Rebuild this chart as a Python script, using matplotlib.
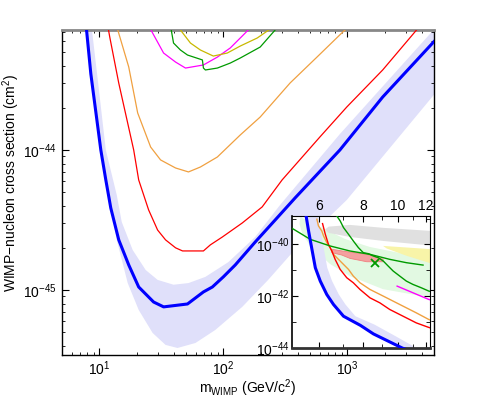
import numpy as np
import matplotlib
matplotlib.use("Agg")
import matplotlib.pyplot as plt
from matplotlib.ticker import FixedLocator, FixedFormatter, NullFormatter

plt.rcParams['font.family'] = ['Liberation Sans', 'DejaVu Sans']
plt.rcParams['mathtext.fontset'] = 'custom'
plt.rcParams['mathtext.rm'] = 'Liberation Sans'
plt.rcParams['mathtext.it'] = 'Liberation Sans:italic'
plt.rcParams['mathtext.default'] = 'regular'

# ---- data (mass in GeV/c^2, cross section in cm^2) ----
blue_m = [5.50, 5.62, 5.71, 5.87, 6.06, 6.32, 6.60, 7.04, 7.85, 8.54, 10.28, 11.28, 12.37, 14.34,
          17.26, 20.77, 27.4, 33.0, 51.4, 69.1, 81.6, 100, 124.9, 180.7, 261.7, 378.7, 870.8,
          1928, 4953, 5500]
blue_s = [2.0e-39, 3.33e-40, 1.0e-40, 1.26e-41, 3.85e-42, 1.17e-42, 4.8e-43, 1.69e-43, 7.5e-44,
          3.5e-44, 1.0e-44, 6.11e-45, 3.85e-45, 2.28e-45, 1.51e-45, 1.05e-45, 8.2e-46, 7.57e-46,
          7.94e-46, 9.68e-46, 1.05e-45, 1.24e-45, 1.51e-45, 2.20e-45, 3.16e-45, 4.54e-45, 1.0e-44,
          2.39e-44, 5.9e-44, 6.5e-44]

band_up_m = [5.94, 6.07, 6.17, 6.34, 6.54, 6.83, 7.13, 7.6, 8.6, 9.72, 11.28, 13.82, 15.16, 18.58,
             23.63, 29.51, 39.67, 52.35, 71.68, 109.7, 180.7, 287, 871, 4953, 5500]
band_up_s = [2.0e-39, 3.33e-40, 1.0e-40, 1.26e-41, 3.85e-42, 1.17e-42, 4.8e-43, 1.69e-43, 8.0e-44,
             3.16e-44, 1.0e-44, 4.77e-45, 3.06e-45, 1.93e-45, 1.39e-45, 1.18e-45, 1.09e-45,
             1.12e-45, 1.24e-45, 1.58e-45, 2.39e-45, 4.05e-45, 1.30e-44, 7.2e-44, 8.0e-44]
band_lo_m = [5.50, 5.62, 5.71, 5.87, 6.06, 6.32, 6.60, 7.04, 7.85, 8.54, 10.28, 11.92, 13.82, 16.94,
             20.77, 26.9, 34.2, 42.7, 59.6, 86.2, 142.1, 229.9, 358.2, 990.8, 5500]
band_lo_s = [2.0e-39, 3.33e-40, 1.0e-40, 1.26e-41, 3.85e-42, 1.17e-42, 4.8e-43, 1.69e-43, 7.5e-44,
             3.5e-44, 1.0e-44, 4.77e-45, 2.28e-45, 1.12e-45, 7.2e-46, 4.93e-46, 4.05e-46, 3.85e-46,
             4.18e-46, 5.18e-46, 7.57e-46, 1.18e-45, 1.84e-45, 4.4e-45, 2.75e-44]

red_m = [6.15, 6.26, 6.39, 6.53, 6.67, 6.89, 7.19, 7.50, 7.83, 8.35, 8.90, 9.49, 10.34, 11.26,
         12.14, 14.34, 18.93, 20.77, 24.98, 29.51, 34.2, 41.2, 46.9, 69.1, 78.6, 98.2, 142.1,
         205.7, 297.8, 601.4, 990.8, 1928, 3615, 4194]
red_s = [6.41e-40, 2.48e-40, 1.0e-40, 5.6e-41, 2.66e-41, 1.09e-41, 5.18e-42, 3.32e-42, 1.83e-42,
         8.69e-43, 5.56e-43, 3.07e-43, 1.69e-43, 9.33e-44, 6.4e-44, 3.01e-44, 1.0e-44, 6.11e-45,
         3.73e-45, 2.68e-45, 2.28e-45, 2.0e-45, 1.9e-45, 1.9e-45, 2.1e-45, 2.39e-45, 3.01e-45,
         3.92e-45, 6.11e-45, 1.24e-44, 2.03e-44, 3.73e-44, 7.2e-44, 8.34e-44]

orange_m = [5.93, 5.99, 6.12, 6.19, 6.32, 6.46, 6.60, 6.89, 7.27, 7.50, 7.83, 8.35, 9.10, 10.12,
            11.26, 12.21, 13.6, 17.26, 20.38, 25.93, 31.19, 41.17, 52.35, 65.35, 89.5, 136.9,
            198.3, 345.3, 568.9, 920, 1047]
orange_s = [9.46e-40, 5.21e-40, 3.33e-40, 2.13e-40, 1.18e-40, 7.54e-41, 4.16e-41, 2.29e-41,
            1.09e-41, 6.01e-42, 3.32e-42, 1.83e-42, 1.01e-42, 4.8e-43, 2.28e-43, 1.26e-43, 8.0e-44,
            3.92e-44, 1.84e-44, 1.05e-44, 8.49e-45, 7.44e-45, 6.97e-45, 7.56e-45, 8.91e-45,
            1.28e-44, 1.72e-44, 3.01e-44, 4.61e-44, 6.97e-44, 7.69e-44]

magenta_m = [9.95, 11.02, 12.21, 24.07, 32.97, 41.17, 49.53, 69.09, 89.5, 113.8, 136.9, 171]
magenta_s = [2.46e-42, 1.36e-42, 7.5e-43, 8.2e-44, 4.93e-44, 4.25e-44, 3.85e-44, 4.05e-44,
             4.61e-44, 5.36e-44, 6.31e-44, 7.69e-44]

olive_m = [41.9, 45.1, 54.3, 65.35, 83.1, 107.7, 136.9, 187.6, 238.5, 287]
olive_s = [8.49e-44, 7.2e-44, 5.81e-44, 5.18e-44, 4.69e-44, 4.93e-44, 5.53e-44, 6.31e-44,
           7.31e-44, 8.34e-44]

green_m = [6.74, 6.89, 7.04, 7.27, 7.50, 7.75, 8.00, 8.26, 8.54, 8.81, 9.10, 9.39, 9.70, 10.12,
           10.56, 11.02, 11.63, 12.21, 36.8, 39.67, 45.1, 51.4, 67.8, 69.1, 71.7, 89.5, 113.8,
           136.9, 198.3, 261.7, 292.4]
green_s = [1.27e-39, 8.15e-40, 4.5e-40, 2.48e-40, 1.37e-40, 7.54e-41, 4.82e-41, 4.42e-41, 3.58e-41,
           3.09e-41, 2.29e-41, 1.47e-41, 9.4e-42, 6.01e-42, 3.85e-42, 2.86e-42, 2.12e-42, 1.58e-42,
           8.49e-44, 5.81e-44, 5.18e-44, 4.77e-44, 4.4e-44, 3.85e-44, 3.73e-44, 3.85e-44, 4.18e-44,
           4.54e-44, 5.44e-44, 7.2e-44, 8.2e-44]

flat_m = [5.0, 5.68, 6.46, 7.34, 8.35, 9.49, 10.56, 11.76]
flat_s = [4.6e-40, 1.58e-40, 8.75e-41, 5.6e-41, 4.16e-41, 2.66e-41, 1.98e-41, 1.6e-41]

gray_m = [6.25, 6.4, 7.34, 9.09, 13, 13, 9.09, 7.34, 6.4]
gray_s = [3.8e-40, 4.9e-40, 5.7e-40, 4.4e-40, 3.2e-40, 8.5e-41, 1.37e-40, 1.95e-40, 2.8e-40]

yellow_m = [9.09, 13, 13, 10.56, 9.3]
yellow_s = [8.8e-41, 6.3e-41, 1.5e-41, 3.68e-41, 7.0e-41]

lgreen_m = [5.33, 6.06, 7.11, 8.35, 10.12, 12.43, 12.43, 11.29, 9.08, 7.34, 6.46, 5.68, 5.40, 5.30]
lgreen_s = [1.16e-39, 4.76e-40, 1.63e-40, 8.0e-41, 4.69e-41, 2.74e-41, 9.2e-43, 1.1e-42,
            1.88e-42, 6.0e-42, 1.75e-41, 8.75e-41, 2.55e-40, 6.24e-40]

pink_m = [6.53, 7.19, 8.18, 9.09, 9.09, 8.18, 7.34, 6.96, 6.53]
pink_s = [6.5e-41, 5.26e-41, 4.17e-41, 2.67e-41, 2.15e-41, 2.15e-41, 2.9e-41, 3.92e-41, 4.82e-41]

best_m = [8.6]
best_s = [1.9e-41]

c_blue, c_band = '#0000ff', '#e0e0fa'
c_red, c_orange, c_mag = '#ff0000', '#f0a040', '#ff00ff'
c_olive, c_green = '#c8b800', '#009a00'

fig = plt.figure(figsize=(4.8, 3.99), dpi=100)
ax = fig.add_axes([62/480, 44/399, 372/480, 325/399])

band_m = np.r_[band_up_m, band_lo_m[::-1]]
band_s = np.r_[band_up_s, band_lo_s[::-1]]


def draw_curves(a, lw_thin):
    a.fill(band_m, band_s, color=c_band, lw=0, zorder=1)
    a.plot(magenta_m, magenta_s, color=c_mag, lw=lw_thin, zorder=3)
    a.plot(olive_m, olive_s, color=c_olive, lw=lw_thin, zorder=3)
    a.plot(green_m, green_s, color=c_green, lw=lw_thin, zorder=3)
    a.plot(orange_m, orange_s, color=c_orange, lw=lw_thin, zorder=3)
    a.plot(red_m, red_s, color=c_red, lw=lw_thin, zorder=3)
    a.plot(blue_m, blue_s, color=c_blue, lw=2.2, zorder=4)


draw_curves(ax, 0.9)
ax.set_xscale('log')
ax.set_yscale('log')
ax.set_xlim(5, 5000)
ax.set_ylim(3.43e-46, 7.2e-44)
ax.yaxis.set_minor_formatter(NullFormatter())
ax.xaxis.set_minor_formatter(NullFormatter())
ax.tick_params(which='both', direction='in', top=True, right=True, labelsize=10)
ax.tick_params(which='major', length=5)
ax.tick_params(which='minor', length=2.5)
ax.tick_params(axis='x', pad=3)
for s in ['left', 'bottom', 'right']:
    ax.spines[s].set_linewidth(1.0)
ax.spines['top'].set_color('#888888')
ax.spines['top'].set_linewidth(2)
ax.set_xlabel('m$_{WIMP}$ (GeV/c$^2$)', fontsize=10)
ax.set_ylabel('WIMP\u2212nucleon cross section (cm$^2$)', fontsize=10)
ax.xaxis.set_label_coords(0.5, -0.068)
ax.yaxis.set_label_coords(-0.108, 0.53)

# ---- inset (low mass) ----
axin = fig.add_axes([292/480, 51/399, 138/480, 132/399])
axin.set_facecolor('white')
axin.fill(lgreen_m, lgreen_s, color='#e2f9e2', lw=0, zorder=0.5)
axin.fill(gray_m, gray_s, color='#e0e0e0', lw=0, zorder=0.6)
axin.fill(yellow_m, yellow_s, color='#f8f4a8', lw=0, zorder=0.6)
draw_curves(axin, 1.0)
axin.fill(pink_m, pink_s, facecolor='#f4a0a0', edgecolor='#f08080', lw=0.6, zorder=2)
axin.plot(flat_m, flat_s, color=c_green, lw=1.0, zorder=3)
axin.plot(best_m, best_s, 'x', color=c_green, ms=6, mew=1.3, zorder=5)
axin.set_xscale('log')
axin.set_yscale('log')
axin.set_xlim(5.05, 12.3)
axin.set_ylim(1e-44, 1.26e-39)
axin.xaxis.set_major_locator(FixedLocator([6, 8, 10, 12]))
axin.xaxis.set_major_formatter(FixedFormatter(['6', '8', '10', '12']))
axin.xaxis.set_minor_locator(FixedLocator([5, 7, 9, 11]))
axin.xaxis.set_minor_formatter(NullFormatter())
axin.yaxis.set_major_locator(FixedLocator([1e-44, 1e-42, 1e-40]))
axin.yaxis.set_minor_locator(FixedLocator([1e-43, 1e-41, 1e-39]))
axin.yaxis.set_minor_formatter(NullFormatter())
axin.tick_params(which='both', direction='in', top=True, right=True, bottom=True,
                 labeltop=True, labelbottom=False, labelsize=10, pad=2)
axin.tick_params(which='major', length=4)
axin.tick_params(which='minor', length=3)
axin.spines['bottom'].set_linewidth(2)
axin.spines['bottom'].set_color('#333333')
axin.spines['left'].set_linewidth(1.2)

fig.savefig('out.png', dpi=100)
